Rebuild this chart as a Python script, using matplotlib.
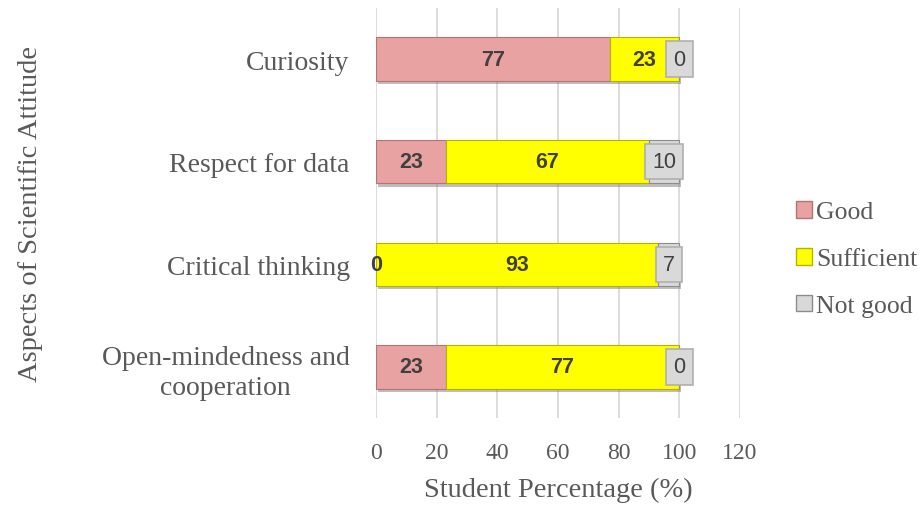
import matplotlib.pyplot as plt
import matplotlib.patheffects as pe
from matplotlib.patches import Patch

categories = ['Open-mindedness and\ncooperation', 'Critical thinking', 'Respect for data', 'Curiosity']
good = [23, 0, 23, 77]
sufficient = [77, 93, 67, 23]
not_good = [0, 7, 10, 0]
x_ticks = [0, 20, 40, 60, 80, 100, 120]

serif = 'Liberation Serif'
sans = 'Liberation Sans'
txt = '#595959'
lbl = '#404040'
c_good, e_good = '#e8a2a2', '#b37474'
c_suff, e_suff = '#ffff00', '#b3b300'
c_bad, e_bad = '#d9d9d9', '#8c8c8c'

fig = plt.figure(figsize=(9.23, 5.06), dpi=100)
ax = fig.add_axes([0.4074, 0.1713, 0.3944, 0.8115])

shadow = [pe.SimplePatchShadow(offset=(1.5, -2.5), shadow_rgbFace='#7f7f7f', alpha=0.5), pe.Normal()]
ypos = range(len(categories))
h = 0.42
b1 = ax.barh(ypos, good, height=h, color=c_good, edgecolor=e_good, linewidth=0.8, label='Good', zorder=3)
b2 = ax.barh(ypos, sufficient, height=h, left=good, color=c_suff, edgecolor=e_suff, linewidth=0.8,
             label='Sufficient', zorder=3)
left2 = [g + s for g, s in zip(good, sufficient)]
b3 = ax.barh(ypos, not_good, height=h, left=left2, color=c_bad, edgecolor=e_bad, linewidth=0.8,
             label='Not good', zorder=3)
for bars in (b1, b2, b3):
    for p in bars:
        p.set_path_effects(shadow)

for i in ypos:
    ax.text(good[i] / 2, i, str(good[i]), ha='center', va='center', family=sans, fontweight='bold',
            fontsize=15.5, color=lbl, zorder=5)
    ax.text(good[i] + sufficient[i] / 2, i, str(sufficient[i]), ha='center', va='center', family=sans,
            fontweight='bold', fontsize=15.5, color=lbl, zorder=5)
    ax.text(left2[i] + not_good[i] / 2, i, str(not_good[i]), ha='center', va='center', family=sans,
            fontsize=15.5, color=lbl, zorder=6,
            bbox=dict(boxstyle='square,pad=0.33', fc='#d9d9d9', ec='#b0b0b0', lw=1.2))

ax.set_xlim(0, 120)
ax.set_ylim(-0.5, 3.5)
ax.set_xticks(x_ticks)
ax.set_xticklabels([str(t) for t in x_ticks], family=serif, fontsize=17, color=txt)
ax.set_yticks(list(ypos))
ax.set_yticklabels(categories, family=serif, fontsize=20, color=txt, ha='right', multialignment='center',
                   linespacing=1.25)
ax.tick_params(length=0)
ax.tick_params(axis='x', pad=17)
ax.tick_params(axis='y', pad=19)
ax.grid(axis='x', color='#d9d9d9', linewidth=1.3, zorder=0)
for s in ax.spines.values():
    s.set_visible(False)

ax.set_xlabel('Student Percentage (%)', family=serif, fontsize=20.5, color=txt, labelpad=10)
fig.text(0.033, 0.578, 'Aspects of Scientific Attitude', rotation=90, ha='center', va='center',
         family=serif, fontsize=20.5, color=txt)

handles = [Patch(fc=c_good, ec=e_good), Patch(fc=c_suff, ec=e_suff), Patch(fc=c_bad, ec=e_bad)]
leg = fig.legend(handles, ['Good', 'Sufficient', 'Not good'], loc='center left', bbox_to_anchor=(0.8625, 0.486),
                 frameon=False, prop={'family': serif, 'size': 18.5}, handlelength=0.62, handleheight=0.62,
                 handletextpad=0.15, labelspacing=0.95, borderaxespad=0, borderpad=0)
for t in leg.get_texts():
    t.set_color(txt)

fig.savefig('out.png', dpi=100)
